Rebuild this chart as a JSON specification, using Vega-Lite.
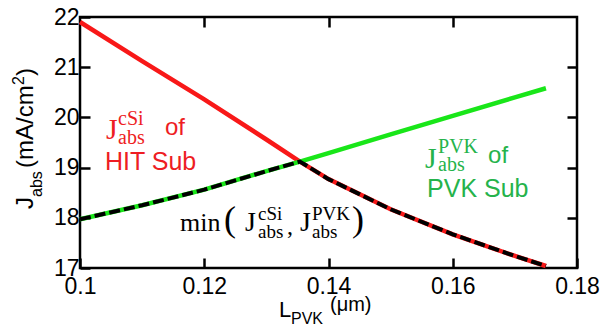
{
 "$schema": "https://vega.github.io/schema/vega-lite/v6.json",
 "width": 497, "height": 251,
 "autosize": "none",
 "padding": {"left": 80, "top": 17, "right": 23, "bottom": 57},
 "background": "white",
 "config": {
  "view": {"stroke": "black", "strokeWidth": 2.5},
  "axis": {"domain": false, "grid": false, "ticks": true, "tickColor": "black", "tickWidth": 2.5, "tickSize": -10,
           "labelFont": "Liberation Sans", "labelFontSize": 23, "labelColor": "black", "title": null}
 },
 "datasets": {
  "curves": [
   {"L": 0.1, "J": 21.9, "c": "cSi"}, {"L": 0.11, "J": 21.12, "c": "cSi"}, {"L": 0.12, "J": 20.36, "c": "cSi"},
   {"L": 0.13, "J": 19.56, "c": "cSi"}, {"L": 0.1354, "J": 19.12, "c": "cSi"}, {"L": 0.14, "J": 18.77, "c": "cSi"},
   {"L": 0.15, "J": 18.17, "c": "cSi"}, {"L": 0.16, "J": 17.67, "c": "cSi"}, {"L": 0.17, "J": 17.24, "c": "cSi"},
   {"L": 0.175, "J": 17.04, "c": "cSi"},
   {"L": 0.1, "J": 17.97, "c": "PVK"}, {"L": 0.11, "J": 18.25, "c": "PVK"}, {"L": 0.12, "J": 18.56, "c": "PVK"},
   {"L": 0.13, "J": 18.93, "c": "PVK"}, {"L": 0.1354, "J": 19.12, "c": "PVK"}, {"L": 0.14, "J": 19.29, "c": "PVK"},
   {"L": 0.15, "J": 19.66, "c": "PVK"}, {"L": 0.16, "J": 20.03, "c": "PVK"}, {"L": 0.17, "J": 20.4, "c": "PVK"},
   {"L": 0.175, "J": 20.58, "c": "PVK"},
   {"L": 0.1, "J": 17.97, "c": "min"}, {"L": 0.11, "J": 18.25, "c": "min"}, {"L": 0.12, "J": 18.56, "c": "min"},
   {"L": 0.13, "J": 18.93, "c": "min"}, {"L": 0.1354, "J": 19.12, "c": "min"}, {"L": 0.14, "J": 18.77, "c": "min"},
   {"L": 0.15, "J": 18.17, "c": "min"}, {"L": 0.16, "J": 17.67, "c": "min"}, {"L": 0.17, "J": 17.24, "c": "min"},
   {"L": 0.175, "J": 17.04, "c": "min"}
  ],
  "ann": [
   {"t": "J", "k": "J", "c": "rt", "x": 0.10419, "y": 19.57},
   {"t": "cSi", "k": "sc", "c": "rt", "x": 0.10612, "y": 19.849},
   {"t": "abs", "k": "sc", "c": "rt", "x": 0.10612, "y": 19.47},
   {"t": "of", "k": "of", "c": "rt", "x": 0.11368, "y": 19.649},
   {"t": "HIT Sub", "k": "big", "c": "rt", "x": 0.10402, "y": 18.952},
   {"t": "J", "k": "J", "c": "gt", "x": 0.15553, "y": 18.992},
   {"t": "PVK", "k": "sc", "c": "gt", "x": 0.15763, "y": 19.291},
   {"t": "abs", "k": "sc", "c": "gt", "x": 0.15763, "y": 18.932},
   {"t": "of", "k": "of", "c": "gt", "x": 0.16568, "y": 19.092},
   {"t": "PVK Sub", "k": "big", "c": "gt", "x": 0.15586, "y": 18.414},
   {"t": "min", "k": "min", "c": "k", "x": 0.1161, "y": 17.737},
   {"t": "(", "k": "paren", "c": "k", "x": 0.12318, "y": 17.737},
   {"t": "J", "k": "Jm", "c": "k", "x": 0.12656, "y": 17.737},
   {"t": "cSi", "k": "scm", "c": "k", "x": 0.12865, "y": 17.956},
   {"t": "abs", "k": "scm", "c": "k", "x": 0.12865, "y": 17.598},
   {"t": ",", "k": "comma", "c": "k", "x": 0.13332, "y": 17.677},
   {"t": "J", "k": "Jm", "c": "k", "x": 0.13541, "y": 17.737},
   {"t": "PVK", "k": "scm", "c": "k", "x": 0.13734, "y": 17.956},
   {"t": "abs", "k": "scm", "c": "k", "x": 0.13734, "y": 17.598},
   {"t": ")", "k": "paren", "c": "k", "x": 0.14378, "y": 17.737},
   {"t": "L", "k": "tl", "c": "k", "x": 0.132033, "y": 16.024},
   {"t": "PVK", "k": "ts", "c": "k", "x": 0.133965, "y": 15.885},
   {"t": "(μm)", "k": "tu", "c": "k", "x": 0.140242, "y": 16.143},
   {"t": "J", "k": "yl", "c": "k", "x": 0.092434, "y": 18.175},
   {"t": "abs", "k": "ys", "c": "k", "x": 0.093883, "y": 18.414},
   {"t": "(mA/cm", "k": "yl", "c": "k", "x": 0.092434, "y": 18.992},
   {"t": "2", "k": "ys", "c": "k", "x": 0.090986, "y": 20.645},
   {"t": ")", "k": "yl", "c": "k", "x": 0.092434, "y": 20.825}
  ]
 },
 "layer": [
  {
   "data": {"name": "curves"},
   "transform": [{"filter": "datum.c != 'min'"}],
   "mark": {"type": "line", "strokeWidth": 4.5},
   "encoding": {
    "x": {"field": "L", "type": "quantitative", "scale": {"domain": [0.1, 0.18], "nice": false, "zero": false},
          "axis": {"orient": "bottom", "values": [0.1, 0.12, 0.14, 0.16, 0.18], "format": "~g", "labelFlush": false, "labelOverlap": false, "labelPadding": 17}},
    "y": {"field": "J", "type": "quantitative", "scale": {"domain": [17, 22], "nice": false, "zero": false},
          "axis": {"orient": "left", "values": [17, 18, 19, 20, 21, 22], "labelOverlap": false, "labelPadding": 11}},
    "color": {"field": "c", "type": "nominal", "legend": null,
              "scale": {"domain": ["cSi", "PVK", "rt", "gt", "k"], "range": ["#f81818", "#19e619", "#ee1d23", "#25b34b", "#000000"]}}
   }
  },
  {
   "data": {"name": "curves"},
   "transform": [{"filter": "datum.c == 'min'"}],
   "mark": {"type": "line", "strokeWidth": 4, "color": "black", "strokeDash": [11, 4]},
   "encoding": {
    "x": {"field": "L", "type": "quantitative", "scale": {"domain": [0.1, 0.18], "nice": false, "zero": false},
          "axis": {"orient": "top", "values": [0.12, 0.14, 0.16], "labels": false}},
    "y": {"field": "J", "type": "quantitative", "scale": {"domain": [17, 22], "nice": false, "zero": false},
          "axis": {"orient": "right", "values": [18, 19, 20, 21], "labels": false}}
   }
  },
  {"data": {"name": "ann"}, "transform": [{"filter": "datum.k == 'J'"}],
   "mark": {"type": "text", "font": "Liberation Serif", "fontSize": 30, "align": "left", "baseline": "alphabetic"},
   "encoding": {"x": {"field": "x", "type": "quantitative", "axis": null}, "y": {"field": "y", "type": "quantitative", "axis": null}, "text": {"field": "t"}, "color": {"field": "c", "type": "nominal", "legend": null}}},
  {"data": {"name": "ann"}, "transform": [{"filter": "datum.k == 'Jm'"}],
   "mark": {"type": "text", "font": "Liberation Serif", "fontSize": 28, "align": "left", "baseline": "alphabetic"},
   "encoding": {"x": {"field": "x", "type": "quantitative", "axis": null}, "y": {"field": "y", "type": "quantitative", "axis": null}, "text": {"field": "t"}, "color": {"field": "c", "type": "nominal", "legend": null}}},
  {"data": {"name": "ann"}, "transform": [{"filter": "datum.k == 'sc'"}],
   "mark": {"type": "text", "font": "Liberation Serif", "fontSize": 20, "align": "left", "baseline": "alphabetic"},
   "encoding": {"x": {"field": "x", "type": "quantitative", "axis": null}, "y": {"field": "y", "type": "quantitative", "axis": null}, "text": {"field": "t"}, "color": {"field": "c", "type": "nominal", "legend": null}}},
  {"data": {"name": "ann"}, "transform": [{"filter": "datum.k == 'scm'"}],
   "mark": {"type": "text", "font": "Liberation Serif", "fontSize": 19, "align": "left", "baseline": "alphabetic"},
   "encoding": {"x": {"field": "x", "type": "quantitative", "axis": null}, "y": {"field": "y", "type": "quantitative", "axis": null}, "text": {"field": "t"}, "color": {"field": "c", "type": "nominal", "legend": null}}},
  {"data": {"name": "ann"}, "transform": [{"filter": "datum.k == 'min'"}],
   "mark": {"type": "text", "font": "Liberation Serif", "fontSize": 26, "align": "left", "baseline": "alphabetic"},
   "encoding": {"x": {"field": "x", "type": "quantitative", "axis": null}, "y": {"field": "y", "type": "quantitative", "axis": null}, "text": {"field": "t"}, "color": {"field": "c", "type": "nominal", "legend": null}}},
  {"data": {"name": "ann"}, "transform": [{"filter": "datum.k == 'paren'"}],
   "mark": {"type": "text", "font": "Liberation Serif", "fontSize": 36, "align": "left", "baseline": "alphabetic"},
   "encoding": {"x": {"field": "x", "type": "quantitative", "axis": null}, "y": {"field": "y", "type": "quantitative", "axis": null}, "text": {"field": "t"}, "color": {"field": "c", "type": "nominal", "legend": null}}},
  {"data": {"name": "ann"}, "transform": [{"filter": "datum.k == 'comma'"}],
   "mark": {"type": "text", "font": "Liberation Serif", "fontSize": 24, "align": "left", "baseline": "alphabetic"},
   "encoding": {"x": {"field": "x", "type": "quantitative", "axis": null}, "y": {"field": "y", "type": "quantitative", "axis": null}, "text": {"field": "t"}, "color": {"field": "c", "type": "nominal", "legend": null}}},
  {"data": {"name": "ann"}, "transform": [{"filter": "datum.k == 'big'"}],
   "mark": {"type": "text", "font": "Liberation Sans", "fontSize": 25, "align": "left", "baseline": "alphabetic"},
   "encoding": {"x": {"field": "x", "type": "quantitative", "axis": null}, "y": {"field": "y", "type": "quantitative", "axis": null}, "text": {"field": "t"}, "color": {"field": "c", "type": "nominal", "legend": null}}},
  {"data": {"name": "ann"}, "transform": [{"filter": "datum.k == 'of'"}],
   "mark": {"type": "text", "font": "Liberation Sans", "fontSize": 24, "align": "left", "baseline": "alphabetic"},
   "encoding": {"x": {"field": "x", "type": "quantitative", "axis": null}, "y": {"field": "y", "type": "quantitative", "axis": null}, "text": {"field": "t"}, "color": {"field": "c", "type": "nominal", "legend": null}}},
  {"data": {"name": "ann"}, "transform": [{"filter": "datum.k == 'tl'"}],
   "mark": {"type": "text", "font": "Liberation Sans", "fontSize": 22, "align": "left", "baseline": "alphabetic"},
   "encoding": {"x": {"field": "x", "type": "quantitative", "axis": null}, "y": {"field": "y", "type": "quantitative", "axis": null}, "text": {"field": "t"}, "color": {"field": "c", "type": "nominal", "legend": null}}},
  {"data": {"name": "ann"}, "transform": [{"filter": "datum.k == 'ts'"}],
   "mark": {"type": "text", "font": "Liberation Sans", "fontSize": 16, "align": "left", "baseline": "alphabetic"},
   "encoding": {"x": {"field": "x", "type": "quantitative", "axis": null}, "y": {"field": "y", "type": "quantitative", "axis": null}, "text": {"field": "t"}, "color": {"field": "c", "type": "nominal", "legend": null}}},
  {"data": {"name": "ann"}, "transform": [{"filter": "datum.k == 'tu'"}],
   "mark": {"type": "text", "font": "Liberation Sans", "fontSize": 20, "align": "left", "baseline": "alphabetic"},
   "encoding": {"x": {"field": "x", "type": "quantitative", "axis": null}, "y": {"field": "y", "type": "quantitative", "axis": null}, "text": {"field": "t"}, "color": {"field": "c", "type": "nominal", "legend": null}}},
  {"data": {"name": "ann"}, "transform": [{"filter": "datum.k == 'yl'"}],
   "mark": {"type": "text", "font": "Liberation Sans", "fontSize": 24, "align": "left", "baseline": "alphabetic", "angle": 270},
   "encoding": {"x": {"field": "x", "type": "quantitative", "axis": null}, "y": {"field": "y", "type": "quantitative", "axis": null}, "text": {"field": "t"}, "color": {"field": "c", "type": "nominal", "legend": null}}},
  {"data": {"name": "ann"}, "transform": [{"filter": "datum.k == 'ys'"}],
   "mark": {"type": "text", "font": "Liberation Sans", "fontSize": 16, "align": "left", "baseline": "alphabetic", "angle": 270},
   "encoding": {"x": {"field": "x", "type": "quantitative", "axis": null}, "y": {"field": "y", "type": "quantitative", "axis": null}, "text": {"field": "t"}, "color": {"field": "c", "type": "nominal", "legend": null}}}
 ],
 "resolve": {"axis": {"x": "independent", "y": "independent"}}
}
